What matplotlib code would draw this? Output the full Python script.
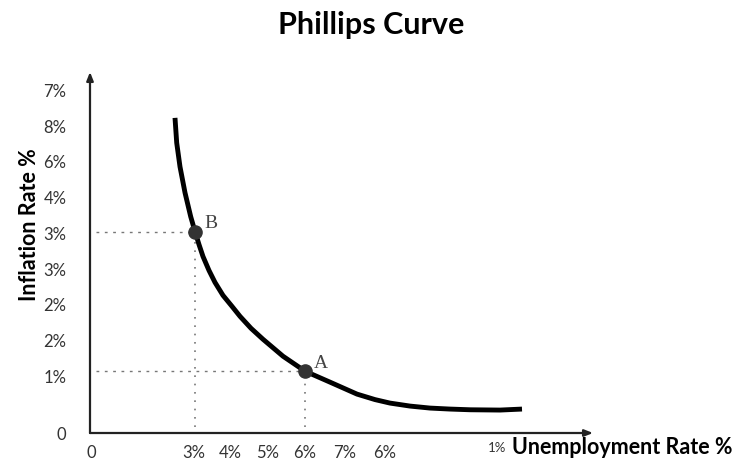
import matplotlib.pyplot as plt

# curve (units: px from origin)
unemp = [85, 86.7, 90, 95, 100.7, 105, 109, 113, 119, 125, 133, 142, 150, 161, 173, 193, 215, 240, 267, 285, 300, 320, 340, 360, 380, 410, 432]
infl = [316, 291, 267, 241, 217, 202, 189, 177, 163, 151, 138, 127, 117, 105, 94, 77, 62, 51, 39, 33.5, 30, 27, 25, 24, 23.3, 23, 24]

points = ["A", "B"]
point_x = [215, 105]
point_y = [62, 202]

ytick_pos = [343, 307, 272, 236, 200, 164, 129, 93, 57, -1]
ytick_lab = ["7%", "8%", "6%", "4%", "3%", "3%", "2%", "2%", "1%", "0"]
xtick_pos = [1, 104, 140, 178, 215, 255, 295]
xtick_lab = ["0", "3%", "4%", "5%", "6%", "7%", "6%"]

plt.rcParams['font.family'] = ['Lato', 'DejaVu Sans']

fig = plt.figure(figsize=(7.38, 4.70), dpi=100)
W, H = 738, 470
ax = fig.add_axes([90 / W, 36 / H, 503 / W, 362 / H])
ax.set_xlim(0, 503)
ax.set_ylim(0, 362)
for s in ax.spines.values():
    s.set_visible(False)

# axes with arrows
ax.annotate("", xy=(503, 0), xytext=(0, 0), annotation_clip=False,
            arrowprops=dict(arrowstyle="-|>,head_length=0.5,head_width=0.2", color="#222", lw=1.6, shrinkA=0, shrinkB=0))
ax.annotate("", xy=(0, 362), xytext=(0, 0), annotation_clip=False,
            arrowprops=dict(arrowstyle="-|>,head_length=0.5,head_width=0.2", color="#222", lw=1.6, shrinkA=0, shrinkB=0))

# guide lines
for px, py in zip(point_x, point_y):
    ax.plot([6, px], [py, py], color="#777", lw=1, linestyle=(0, (2, 4)))
    ax.plot([px, px], [6, py], color="#777", lw=1.2, linestyle=(0, (1, 4)))

ax.plot(unemp, infl, color="black", lw=3.5, solid_capstyle="butt", solid_joinstyle="round", zorder=3)
ax.plot(point_x, point_y, "o", color="#333", markersize=9.5, zorder=4)
for name, px, py in zip(points, point_x, point_y):
    ax.text(px + 9, py + 8, name, family="Liberation Serif", fontsize=14, color="#444", va="center")

ax.set_yticks(ytick_pos, ytick_lab, fontsize=12, color="#333")
ax.set_xticks(xtick_pos, xtick_lab, fontsize=12, color="#333")
ax.tick_params(length=0, pad=8)
ax.tick_params(axis="y", pad=17)
ax.text(407, -15, "1%", fontsize=9.5, color="#333", ha="center", va="center")
ax.text(422, -15, "Unemployment Rate %", fontsize=15.5, fontweight="bold", color="black", va="center")

ax.set_ylabel("Inflation Rate %", fontsize=15.5, fontweight="bold")
ax.yaxis.set_label_coords(-0.1, 0.578)

fig.text(371 / W, 1 - 25 / H, "Phillips Curve", fontsize=22, fontweight="bold", ha="center", va="center")

fig.savefig("out.png", dpi=100)
